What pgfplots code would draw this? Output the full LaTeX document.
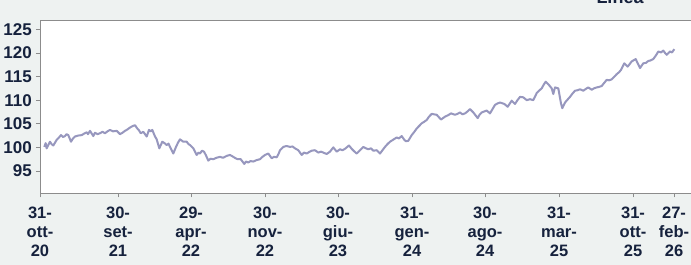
\documentclass[border=0pt]{standalone}
\usepackage{pgfplots}
\pgfplotsset{compat=1.18}
\usepackage{fontspec}
\setmainfont{Liberation Sans}
\definecolor{bgc}{HTML}{EEF2F1}
\definecolor{txt}{HTML}{16223D}
\definecolor{lin}{HTML}{9797BE}
\definecolor{axc}{HTML}{8C8C8C}
\begin{document}
\begin{tikzpicture}[x=1pt,y=1pt]
\fill[bgc] (-40,-71.7) rectangle (651,193.3);
\path[use as bounding box] (-40,-71.7) rectangle (651,193.3);
\begin{axis}[
  at={(0,0)}, anchor=south west,
  scale only axis, width=655pt, height=173.3pt,
  xmin=0, xmax=655, ymin=90.28, ymax=126.97,
  axis background/.style={fill=white},
  axis line style={axc, line width=0.8pt},
  tick style={axc, line width=0.6pt},
  tick align=outside,
  major tick length=4pt,
  xtick={0,78,151,225,298,372,445,519,593,634},
  xticklabels={31-\\ott-\\20, 30-\\set-\\21, 29-\\apr-\\22, 30-\\nov-\\22, 30-\\giu-\\23, 31-\\gen-\\24, 30-\\ago-\\24, 31-\\mar-\\25, 31-\\ott-\\25, 27-\\feb-\\26},
  ytick={95,100,...,125},
  x tick label style={align=center, font=\fontsize{16.5}{19}\selectfont\bfseries, text=txt, inner sep=0pt, yshift=-9pt},
  y tick label style={font=\fontsize{17}{19}\selectfont\bfseries, text=txt, inner sep=0pt, xshift=-4pt},
  /pgf/number format/assume math mode=true,
  xtick pos=bottom, ytick pos=left,
  clip=true,
]
\addplot[lin, line width=2pt, line join=round] coordinates {
(4.3,100.1)(5.7,100.9)(6.7,99.8)(8.5,100.6)(10,101.2)(11.5,100.7)(13.3,100.4)(15,101.0)(16.7,101.6)(19,102.1)(21,102.6)(23,102.2)(25,102.4)(26.5,102.8)(28.3,102.6)(31,101.2)
(33,101.9)(35,102.3)(38,102.5)(41.7,102.6)(44,102.9)(46.7,103.2)(48,102.8)(50,103.5)(53.3,102.4)(55,103.1)(57.5,102.8)(60,103.0)(62.5,103.3)(65,103.0)(67.5,103.4)(70,103.7)(73,103.4)(76.7,103.5)
(80,102.8)(82.5,103.1)(85,103.5)(87.5,103.8)(90,104.2)(92.5,104.5)(95,104.7)(97.3,104.0)(99,103.6)(100.7,103.0)(103.3,103.3)(106.7,102.3)(109,103.7)(110.5,103.4)(112.3,103.7)
(115,102.3)(116.7,101.7)(119.3,99.8)(122.3,101.2)(124.5,100.9)(126.7,100.5)(128.5,100.8)(130,100.1)(133.3,98.7)(136,100.1)(138,101.0)(140,101.7)(143.3,101.2)
(146.7,101.2)(148.5,100.7)(150,100.5)(153.3,99.8)(156.7,98.4)(158.5,98.9)(160,98.7)(162,99.3)(164,99.1)(166,98.3)(168.3,97.2)(170.5,97.6)(173.3,97.5)(176.5,97.8)(180,98.0)(183,97.8)(186.7,98.2)
(190,98.4)(193.3,98.0)(195.5,97.7)(197.7,97.5)(200.7,97.5)(202.5,97.0)(204.3,96.5)(206,97.0)(208.3,96.8)(210.5,97.1)(213.3,97.0)(216.5,97.3)(220,97.5)(222.5,98.0)(225,98.4)(228.3,98.7)
(231.7,97.7)(234,98.0)(236.7,97.9)(238.5,98.6)(240,99.4)(243.3,100.1)(246.5,100.3)(250,100.1)(252.5,100.2)(255,99.8)(258.3,99.4)(261.7,98.4)(264,98.9)(266.7,98.7)(269,99.0)(271.7,99.3)
(275,99.4)(278.3,98.9)(281,99.1)(283.3,98.9)(286.7,98.6)(290,99.1)(293.3,100.0)(296.7,99.1)(300,99.6)(302.5,99.4)(305,99.7)(309,100.4)
(311.7,99.7)(314,99.2)(316.7,98.7)(320,99.4)(323.3,100.1)(326,99.8)(328.3,99.6)(331,99.8)(333.3,99.3)(336.7,99.4)(340,98.7)(342.5,99.4)(345,100.1)(347.5,100.7)(350,101.2)(353,101.6)(356.7,102.1)
(359,101.9)(361.7,102.4)(364.3,101.6)(366,101.3)(368.3,101.4)(371.7,102.6)(374,103.2)(376.7,104.0)(379,104.5)(381.7,105.1)(384,105.4)(386.7,105.8)(389,106.5)(391.7,107.1)(394,107.0)(396.7,106.9)(401,105.9)
(405,106.5)(408,106.8)(411,107.2)(415,106.9)(417.5,107.1)(420,107.4)(422.5,107.0)(425,107.2)(427.5,107.6)(430,108.1)(433.3,107.4)(435.5,106.8)(437.7,106.2)(439.5,106.9)(441.7,107.4)(446.7,107.8)
(450,107.2)(452.5,108.1)(455,109.0)(457.5,109.3)(460,109.5)(464.3,109.2)(467.7,108.6)(471.7,109.9)(475,109.2)(477.5,110.0)(480,110.7)(483.3,110.6)(486.7,110.0)
(490,110.2)(493.3,110.0)(496.7,111.5)(499,112.0)(501.7,112.5)(503.5,113.2)(505.7,113.9)(509,113.2)(511.7,112.5)(513.3,111.3)(515,112.7)(518.3,112.5)(521,109.3)
(522.3,108.3)(525,109.5)(527.5,110.1)(530,110.7)(532.5,111.4)(535,112.0)(537.5,112.1)(540,112.3)(543.3,112.0)(546,112.4)(548.3,112.7)(551.7,112.2)(554,112.5)(556.7,112.7)(559,112.8)(561.7,113.0)
(564,113.6)(566.7,114.3)(569,114.2)(571.7,114.4)(574,114.9)(576.7,115.5)(579,115.9)(581,116.4)(584.3,117.8)(587.7,117.1)(589.5,117.6)(591.7,118.2)(595.7,118.7)(597.7,117.8)(600,116.8)
(603.3,117.8)(606,117.9)(608.3,118.3)(610.5,118.4)(613.3,118.7)(616,119.5)(618.3,120.3)(621,120.1)(623.3,120.5)(625,120.0)(626.7,119.6)(628.5,120.0)(630,120.3)(632,120.1)(634.3,120.8)
};
\end{axis}
\node[anchor=base, text=txt, font=\fontsize{18}{20}\selectfont\bfseries] at (580,189.3) {Linea};
\end{tikzpicture}
\end{document}
